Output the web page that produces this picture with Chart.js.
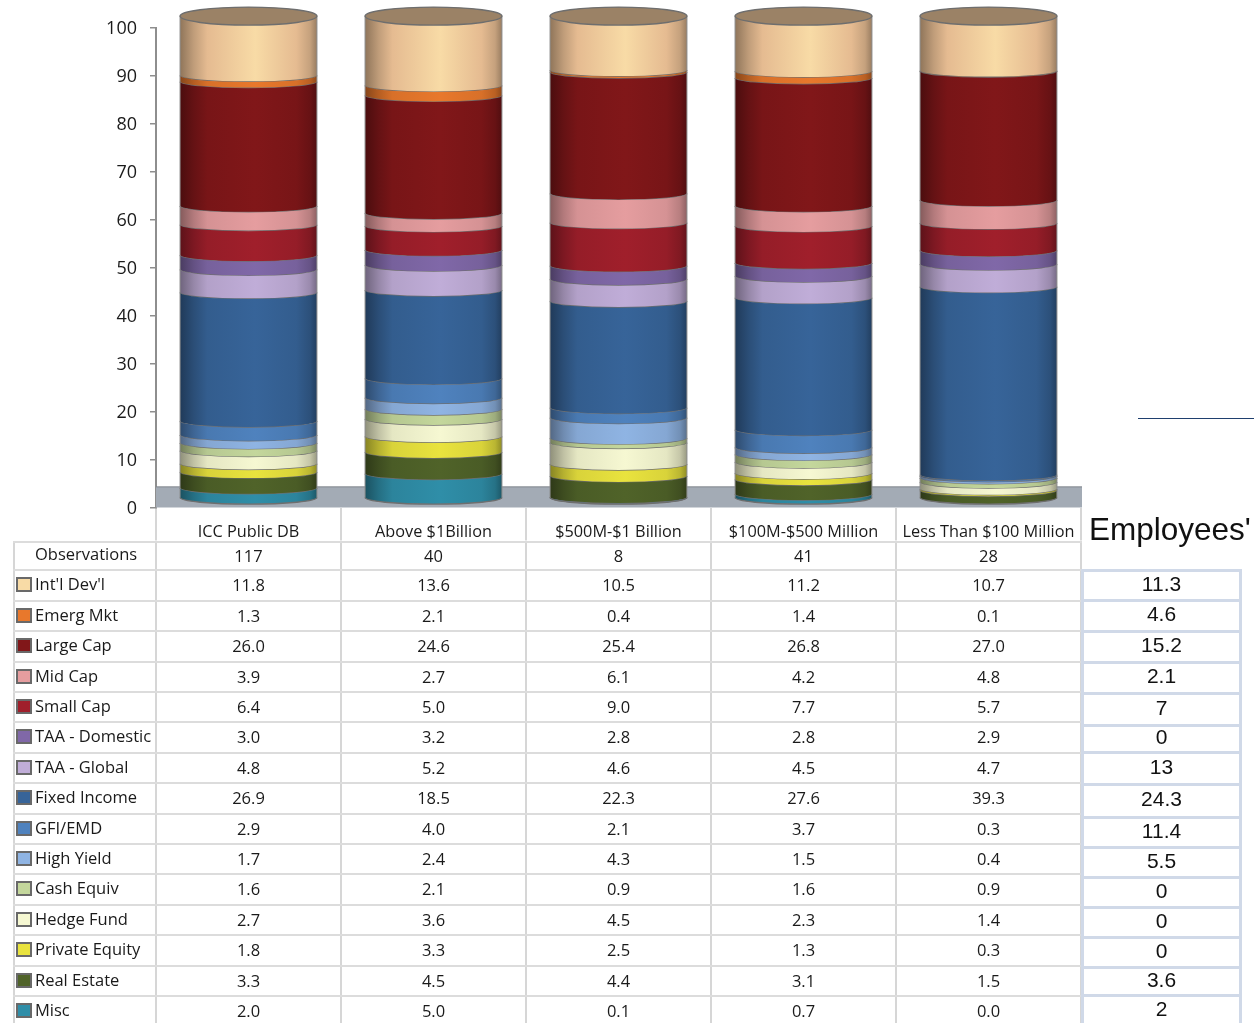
<!DOCTYPE html>
<html>
<head>
<meta charset="utf-8">
<title>Asset allocation</title>
<script src="https://cdn.jsdelivr.net/npm/chart.js@4"></script>
<style>
    html, body { margin: 0; padding: 0; background: #fff; }
    #page { position: relative; width: 1254px; height: 1023px; overflow: hidden; font-family: "Open Sans", sans-serif; color: #1a1a1a; }
    #chart { position: absolute; left: 0; top: 0; }
    .row { position: absolute; left: 13px; width: 1069px; height: 30.4px; border-bottom: 2px solid #dcdcdc; box-sizing: border-box; }
    .row.first { border-top: 2px solid #dcdcdc; }
    .cell { position: absolute; top: 0; height: 100%; border-right: 2px solid #d6d6d6; box-sizing: border-box; text-align: center; font-size: 16.5px; line-height: 28px; }
    .row.first .cell { line-height: 25px; }
    .name { left: 0; width: 144px; text-align: left; padding: 0 0 0 20px; line-height: 25px; white-space: nowrap; border-left: 2px solid #d6d6d6; }
    .row.first .name { line-height: 22px; }
    .key { position: absolute; left: 1px; top: 6px; width: 16px; height: 15px; box-sizing: border-box; border: 2.5px solid #696969; }
    #empTitle { position: absolute; left: 1089px; top: 511px; font: 31.5px "Liberation Sans", sans-serif; color: #111; white-space: nowrap; }
    .emp { position: absolute; left: 1081px; width: 161px; box-sizing: border-box; border: 3px solid #d0d9e8; text-align: center; font: 21px "Liberation Sans", sans-serif; color: #111; }
    #stray { position: absolute; left: 1138px; top: 418px; width: 116px; height: 1px; background: #1f3f6e; }
</style>
</head>
<body>
<div id="page">
    <canvas id="chart" width="1254" height="1023"></canvas>
    <div id="table"></div>
    <div id="empTitle">Employees'</div>
    <div id="empTable"></div>
    <div id="stray"></div>
</div>
<script>
// data
var categories = ['ICC Public DB', 'Above $1Billion', '$500M-$1 Billion', '$100M-$500 Million', 'Less Than $100 Million'];
var observations = [117, 40, 8, 41, 28];
var seriesNames = ["Int'l Dev'l", 'Emerg Mkt', 'Large Cap', 'Mid Cap', 'Small Cap', 'TAA - Domestic', 'TAA - Global', 'Fixed Income', 'GFI/EMD', 'High Yield', 'Cash Equiv', 'Hedge Fund', 'Private Equity', 'Real Estate', 'Misc'];

var intlDev = [11.8, 13.6, 10.5, 11.2, 10.7];
var emergMkt = [1.3, 2.1, 0.4, 1.4, 0.1];
var largeCap = [26.0, 24.6, 25.4, 26.8, 27.0];
var midCap = [3.9, 2.7, 6.1, 4.2, 4.8];
var smallCap = [6.4, 5.0, 9.0, 7.7, 5.7];
var taaDomestic = [3.0, 3.2, 2.8, 2.8, 2.9];
var taaGlobal = [4.8, 5.2, 4.6, 4.5, 4.7];
var fixedIncome = [26.9, 18.5, 22.3, 27.6, 39.3];
var gfiEmd = [2.9, 4.0, 2.1, 3.7, 0.3];
var highYield = [1.7, 2.4, 4.3, 1.5, 0.4];
var cashEquiv = [1.6, 2.1, 0.9, 1.6, 0.9];
var hedgeFund = [2.7, 3.6, 4.5, 2.3, 1.4];
var privateEquity = [1.8, 3.3, 2.5, 1.3, 0.3];
var realEstate = [3.3, 4.5, 4.4, 3.1, 1.5];
var misc = [2.0, 5.0, 0.1, 0.7, 0.0];

var seriesValues = [intlDev, emergMkt, largeCap, midCap, smallCap, taaDomestic, taaGlobal, fixedIncome, gfiEmd, highYield, cashEquiv, hedgeFund, privateEquity, realEstate, misc];
var employeeValues = ['11.3', '4.6', '15.2', '2.1', '7', '0', '13', '24.3', '11.4', '5.5', '0', '0', '0', '3.6', '2'];

// styles
var seriesColors = ['#f8dba6', '#e8782c', '#811719', '#e59d9f', '#a01f2b', '#8068a8', '#c0add8', '#376499', '#4f82be', '#8fb4e3', '#c4d79c', '#f6f8d2', '#e9e33e', '#506329', '#2f8ea8'];
var sideTints = { '#f8dba6': '#f6c99c' };   // the beige slice turns peach toward its sides
var employeeRowLines = [570, 600, 631, 662, 693, 725, 752, 784, 817, 847, 877, 907, 937, 967, 995, 1026];
var capColor = '#9b8266';
var edgeColor = '#6e6e6e';
var shadeStops = [[0, 0.58], [0.1, 0.78], [0.2, 0.93], [0.55, 1], [0.85, 0.93], [0.95, 0.8], [1, 0.62]];
var rowHeight = 30.4;
var tableTop = 541;
var ellipseDepth = 6.5;
var capDepth = 9;
var capRise = 3.5;
var floorValue = 4.3;

function shade(hex, k) {
    var n = parseInt(hex.slice(1), 16);
    var r = Math.round(((n >> 16) & 255) * k);
    var g = Math.round(((n >> 8) & 255) * k);
    var b = Math.round((n & 255) * k);
    return 'rgb(' + r + ',' + g + ',' + b + ')';
}

// draws each stacked bar as a curved slice of a cylinder
var cylinderPlugin = {
    id: 'cylinders',
    beforeDatasetsDraw: function (chart) {
        var ctx = chart.ctx;
        var area = chart.chartArea;
        var y = chart.scales.y;
        var floorTop = y.getPixelForValue(floorValue);
        var floorBottom = y.getPixelForValue(0);
        ctx.save();
        ctx.fillStyle = '#a3abb5';
        ctx.fillRect(area.left, floorTop, area.right - area.left + 1, floorBottom - floorTop);
        ctx.strokeStyle = '#7f858c';
        ctx.lineWidth = 1;
        ctx.beginPath();
        ctx.moveTo(area.left, floorTop);
        ctx.lineTo(area.right + 1, floorTop);
        ctx.stroke();
        ctx.restore();
    },
    beforeDatasetDraw: function (chart, args) {
        var ctx = chart.ctx;
        var color = chart.data.datasets[args.index].backgroundColor;
        var sideColor = sideTints[color] || color;
        var isTop = args.index === chart.data.datasets.length - 1;
        var lidLevel = chart.scales.bars.getPixelForValue(100) - capRise;
        args.meta.data.forEach(function (bar) {
            if (bar.base - bar.y < 0.01) return;
            var rx = bar.width / 2;
            var left = bar.x - rx;
            var right = bar.x + rx;
            var top = isTop ? lidLevel : bar.y;
            var bottom = bar.base;
            var grad = ctx.createLinearGradient(left, 0, right, 0);
            shadeStops.forEach(function (s) {
                grad.addColorStop(s[0], shade(s[0] === 0.55 ? color : sideColor, s[1]));
            });

            ctx.save();
            ctx.beginPath();
            ctx.moveTo(left, top);
            ctx.ellipse(bar.x, top, rx, ellipseDepth, 0, Math.PI, 0, true);
            ctx.lineTo(right, bottom);
            ctx.ellipse(bar.x, bottom, rx, ellipseDepth, 0, 0, Math.PI, false);
            ctx.closePath();
            ctx.fillStyle = grad;
            ctx.fill();

            ctx.strokeStyle = edgeColor;
            ctx.lineWidth = 1.4;
            ctx.beginPath();
            ctx.ellipse(bar.x, bottom, rx, ellipseDepth, 0, 0, Math.PI, false);
            ctx.stroke();

            ctx.strokeStyle = '#8c8c8c';
            ctx.lineWidth = 1;
            ctx.beginPath();
            ctx.moveTo(left, top);
            ctx.lineTo(left, bottom);
            ctx.moveTo(right, top);
            ctx.lineTo(right, bottom);
            ctx.stroke();
            ctx.restore();
        });
        return false;
    },
    afterDatasetsDraw: function (chart) {
        // lid sits at the 100 level on every column
        var ctx = chart.ctx;
        var lidLevel = chart.scales.bars.getPixelForValue(100) - capRise;
        chart.getDatasetMeta(chart.data.datasets.length - 1).data.forEach(function (bar) {
            ctx.save();
            ctx.beginPath();
            ctx.ellipse(bar.x, lidLevel, bar.width / 2, capDepth, 0, 0, Math.PI * 2);
            ctx.fillStyle = capColor;
            ctx.fill();
            ctx.strokeStyle = edgeColor;
            ctx.lineWidth = 1.4;
            ctx.stroke();
            ctx.restore();
        });
    }
};

// stack runs from the bottom up, so the table order is reversed here
var datasets = [];
for (var i = seriesNames.length - 1; i >= 0; i--) {
    datasets.push({ label: seriesNames[i], data: seriesValues[i], backgroundColor: seriesColors[i], yAxisID: 'bars' });
}

var chart = new Chart(document.getElementById('chart'), {
    type: 'bar',
    data: { labels: categories, datasets: datasets },
    plugins: [cylinderPlugin],
    options: {
        responsive: false,
        animation: false,
        barPercentage: 0.74,
        categoryPercentage: 1,
        layout: { padding: { left: 0, top: 27.5, right: 173, bottom: 482 } },
        plugins: { legend: { display: false }, tooltip: { enabled: false } },
        scales: {
            x: {
                stacked: true,
                afterFit: function (scale) { scale.height = 33.5; },
                border: { display: false },
                grid: { offset: true, drawOnChartArea: false, color: '#d6d6d6', lineWidth: 2, tickLength: 33 },
                ticks: { color: '#1a1a1a', padding: -18, maxRotation: 0, autoSkip: false, font: { family: '"Open Sans"', size: 16.3 } }
            },
            y: {
                min: 0,
                max: 100,
                afterFit: function (scale) { scale.width = 156; },
                border: { color: '#8e8e8e', width: 2 },
                grid: { drawOnChartArea: false, color: '#8e8e8e', lineWidth: 1.5, tickLength: 6 },
                ticks: { stepSize: 10, color: '#1a1a1a', padding: 13, labelOffset: 1.5, font: { family: '"Open Sans"', size: 18 } }
            },
            // columns stand on the floor, so they run on a hidden scale raised above the axis
            bars: {
                display: false,
                stacked: true,
                position: 'left',
                min: -2.07,
                max: 98.35
            }
        }
    }
});

// table under the chart
function addRow(top, name, color, values, first) {
    var row = document.createElement('div');
    row.className = 'row' + (first ? ' first' : '');
    row.style.top = top + 'px';
    var label = document.createElement('div');
    label.className = 'cell name';
    label.textContent = name;
    if (color) {
        var key = document.createElement('span');
        key.className = 'key';
        key.style.background = color;
        label.appendChild(key);
    }
    row.appendChild(label);
    values.forEach(function (v, c) {
        var cell = document.createElement('div');
        cell.className = 'cell';
        cell.style.left = (144 + 185 * c) + 'px';
        cell.style.width = '185px';
        cell.textContent = v;
        row.appendChild(cell);
    });
    document.getElementById('table').appendChild(row);
}

addRow(tableTop, 'Observations', null, observations, true);
seriesNames.forEach(function (name, s) {
    var shown = seriesValues[s].map(function (v) { return v.toFixed(1); });
    addRow(tableTop + rowHeight * (s + 1), name, seriesColors[s], shown, false);
});

employeeValues.forEach(function (v, r) {
    var cell = document.createElement('div');
    cell.className = 'emp';
    cell.style.top = (employeeRowLines[r] - 1) + 'px';
    var h = employeeRowLines[r + 1] - employeeRowLines[r] + 3;
    cell.style.height = h + 'px';
    cell.style.lineHeight = (h - 10) + 'px';
    cell.textContent = v;
    document.getElementById('empTable').appendChild(cell);
});
</script>
</body>
</html>
